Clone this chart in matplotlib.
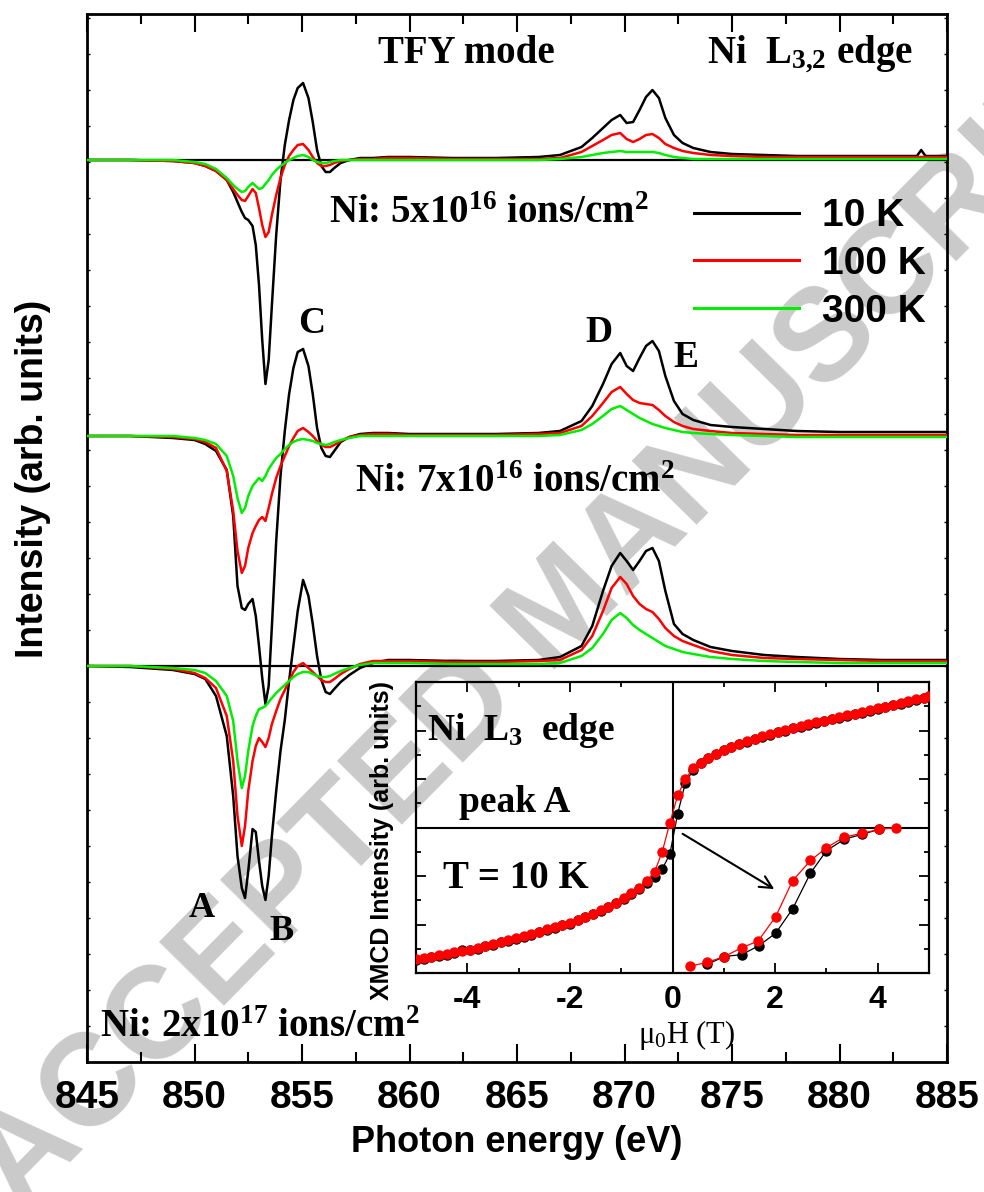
import numpy as np
import matplotlib
matplotlib.use("Agg")
import matplotlib.pyplot as plt
from matplotlib.ticker import MultipleLocator
from matplotlib.lines import Line2D

# ---------------- data ----------------
energy = [845, 847, 849, 850, 850.5, 851, 851.5, 851.8, 852.0, 852.2,
          852.35, 852.5, 852.7, 852.85, 853.0, 853.15, 853.3, 853.45, 853.6, 853.8,
          854.0, 854.2, 854.4, 854.6, 854.8, 855.05, 855.3, 855.5, 855.7, 855.9,
          856.1, 856.3, 856.5, 856.8, 857.2, 857.7, 858.3, 859, 860, 862,
          864, 866, 867, 868, 868.5, 869, 869.4, 869.8, 870.1, 870.4,
          870.7, 871.0, 871.3, 871.6, 871.9, 872.3, 872.7, 873.2, 874, 875,
          876.5, 878, 880, 882, 883.6, 883.8, 884.0, 885]

# Ni 5e16
top_10K = [0.00, 0.00, -0.01, -0.03, -0.06,
           -0.11, -0.20, -0.32, -0.42, -0.52,
           -0.58, -0.60, -0.66, -0.85, -1.25,
           -1.80, -2.24, -2.00, -1.45, -0.75,
           -0.20, 0.15, 0.40, 0.60, 0.72,
           0.77, 0.62, 0.38, 0.10, -0.06,
           -0.12, -0.12, -0.08, -0.03, 0.00,
           0.02, 0.02, 0.03, 0.03, 0.02,
           0.02, 0.03, 0.05, 0.13, 0.22,
           0.32, 0.40, 0.45, 0.37, 0.38,
           0.50, 0.63, 0.70, 0.62, 0.42,
           0.25, 0.17, 0.12, 0.08, 0.06,
           0.05, 0.04, 0.04, 0.04, 0.04,
           0.10, 0.04, 0.04]
top_100K = [0.00, 0.00, -0.01, -0.03, -0.06,
            -0.11, -0.20, -0.29, -0.35, -0.40,
            -0.41, -0.36, -0.29, -0.33, -0.48,
            -0.65, -0.77, -0.72, -0.55, -0.35,
            -0.18, -0.05, 0.04, 0.10, 0.15,
            0.16, 0.10, 0.03, -0.03, -0.06,
            -0.06, -0.05, -0.03, -0.01, 0.00,
            0.01, 0.01, 0.02, 0.02, 0.01,
            0.01, 0.01, 0.02, 0.08, 0.14,
            0.20, 0.25, 0.27, 0.21, 0.18,
            0.21, 0.25, 0.26, 0.22, 0.16,
            0.12, 0.09, 0.07, 0.05, 0.04,
            0.03, 0.03, 0.03, 0.03, 0.03,
            0.03, 0.03, 0.03]
top_300K = [0.00, 0.00, 0.00, -0.02, -0.04,
            -0.09, -0.18, -0.25, -0.29, -0.32,
            -0.31, -0.27, -0.23, -0.26, -0.29,
            -0.28, -0.24, -0.20, -0.15, -0.10,
            -0.06, -0.03, 0.00, 0.02, 0.04,
            0.05, 0.03, 0.00, -0.02, -0.03,
            -0.03, -0.02, -0.01, 0.00, 0.00,
            0.00, 0.00, 0.00, 0.00, 0.00,
            0.00, 0.00, 0.01, 0.03, 0.05,
            0.07, 0.08, 0.09, 0.08, 0.08,
            0.08, 0.08, 0.08, 0.07, 0.05,
            0.03, 0.02, 0.01, 0.01, 0.01,
            0.01, 0.01, 0.01, 0.01, 0.01,
            0.01, 0.01, 0.01]

# Ni 7e16
mid_10K = [0.00, 0.00, -0.02, -0.04, -0.08,
           -0.15, -0.34, -0.80, -1.50, -1.72,
           -1.74, -1.68, -1.63, -1.80, -2.10,
           -2.42, -2.68, -2.50, -1.90, -1.05,
           -0.40, 0.05, 0.42, 0.68, 0.84,
           0.87, 0.70, 0.42, 0.08, -0.12,
           -0.20, -0.21, -0.15, -0.06, -0.01,
           0.02, 0.03, 0.03, 0.02, 0.02,
           0.02, 0.03, 0.05, 0.15, 0.30,
           0.52, 0.72, 0.83, 0.70, 0.65,
           0.78, 0.90, 0.95, 0.85, 0.60,
           0.35, 0.22, 0.16, 0.11, 0.09,
           0.07, 0.05, 0.04, 0.04, 0.04,
           0.04, 0.04, 0.04]
mid_100K = [0.00, 0.00, -0.01, -0.03, -0.06,
            -0.12, -0.35, -0.75, -1.15, -1.37,
            -1.30, -1.12, -0.97, -0.90, -0.84,
            -0.81, -0.85, -0.72, -0.58, -0.42,
            -0.30, -0.20, -0.10, -0.02, 0.05,
            0.08, 0.04, 0.00, -0.05, -0.09,
            -0.11, -0.11, -0.09, -0.05, -0.01,
            0.01, 0.02, 0.02, 0.01, 0.01,
            0.01, 0.02, 0.03, 0.10, 0.20,
            0.33, 0.44, 0.49, 0.42, 0.36,
            0.33, 0.32, 0.31, 0.26, 0.20,
            0.14, 0.10, 0.07, 0.05, 0.03,
            0.02, 0.01, 0.01, 0.01, 0.01,
            0.01, 0.01, 0.01]
mid_300K = [0.00, 0.00, 0.00, -0.02, -0.04,
            -0.08, -0.20, -0.40, -0.62, -0.77,
            -0.72, -0.60, -0.50, -0.46, -0.42,
            -0.45, -0.40, -0.33, -0.28, -0.22,
            -0.18, -0.13, -0.09, -0.06, -0.04,
            -0.03, -0.04, -0.05, -0.07, -0.08,
            -0.09, -0.08, -0.06, -0.04, -0.02,
            0.00, 0.00, 0.00, 0.00, 0.00,
            0.00, 0.00, 0.01, 0.06, 0.12,
            0.20, 0.27, 0.30, 0.26, 0.22,
            0.18, 0.15, 0.12, 0.10, 0.08,
            0.06, 0.04, 0.03, 0.02, 0.01,
            0.00, -0.01, -0.01, -0.01, -0.01,
            -0.01, -0.01, -0.01]

# Ni 2e17
bot_10K = [0.00, -0.01, -0.04, -0.08, -0.13,
           -0.30, -0.70, -1.30, -1.90, -2.22,
           -2.32, -2.05, -1.63, -1.66, -1.95,
           -2.20, -2.34, -2.10, -1.70, -1.25,
           -0.85, -0.54, -0.15, 0.20, 0.55,
           0.86, 0.70, 0.42, 0.10, -0.14,
           -0.26, -0.28, -0.23, -0.16, -0.09,
           -0.02, 0.03, 0.06, 0.06, 0.05,
           0.05, 0.06, 0.09, 0.20, 0.40,
           0.75, 1.00, 1.13, 1.05, 0.96,
           1.05, 1.15, 1.18, 1.05, 0.75,
           0.42, 0.32, 0.26, 0.19, 0.15,
           0.11, 0.09, 0.07, 0.06, 0.06,
           0.06, 0.06, 0.06]
bot_100K = [0.00, 0.00, -0.03, -0.07, -0.12,
            -0.22, -0.50, -0.95, -1.50, -1.80,
            -1.60, -1.25, -0.95, -0.80, -0.72,
            -0.76, -0.81, -0.72, -0.58, -0.45,
            -0.33, -0.24, -0.15, -0.06, 0.00,
            0.03, -0.02, -0.06, -0.10, -0.14,
            -0.16, -0.16, -0.13, -0.08, -0.03,
            0.02, 0.05, 0.05, 0.05, 0.04,
            0.04, 0.05, 0.06, 0.16, 0.30,
            0.55, 0.78, 0.89, 0.82, 0.70,
            0.62, 0.57, 0.54, 0.47, 0.38,
            0.30, 0.25, 0.21, 0.15, 0.11,
            0.08, 0.07, 0.06, 0.05, 0.05,
            0.05, 0.05, 0.05]
bot_300K = [0.00, 0.00, -0.02, -0.04, -0.07,
            -0.15, -0.30, -0.55, -0.95, -1.22,
            -1.10, -0.85, -0.60, -0.50, -0.43,
            -0.42, -0.40, -0.36, -0.32, -0.27,
            -0.23, -0.19, -0.15, -0.11, -0.08,
            -0.06, -0.06, -0.08, -0.10, -0.11,
            -0.11, -0.10, -0.08, -0.05, -0.02,
            0.01, 0.03, 0.03, 0.03, 0.02,
            0.02, 0.02, 0.03, 0.10, 0.18,
            0.32, 0.46, 0.53, 0.48, 0.41,
            0.36, 0.32, 0.28, 0.24, 0.20,
            0.17, 0.14, 0.12, 0.09, 0.07,
            0.05, 0.04, 0.03, 0.03, 0.03,
            0.03, 0.03, 0.03]

temps = ["10 K", "100 K", "300 K"]

# inset: hysteresis at peak A, T = 10 K
field = [-5.0, -4.85, -4.7, -4.55, -4.4, -4.25, -4.1, -3.95, -3.8, -3.65,
         -3.5, -3.35, -3.2, -3.05, -2.9, -2.75, -2.6, -2.45, -2.3, -2.15,
         -2.0, -1.85, -1.7, -1.55, -1.4, -1.25, -1.1, -0.95, -0.8, -0.65,
         -0.5, -0.35, -0.2, -0.05, 0.1, 0.25, 0.4, 0.55, 0.7, 0.85,
         1.0, 1.15, 1.3, 1.45, 1.6, 1.75, 1.9, 2.05, 2.2, 2.35,
         2.5, 2.65, 2.8, 2.95, 3.1, 3.25, 3.4, 3.55, 3.7, 3.85,
         4.0, 4.15, 4.3, 4.45, 4.6, 4.75, 4.9, 5.0]
xmcd_red = [-1.36, -1.345, -1.33, -1.315, -1.30, -1.285, -1.27, -1.26, -1.24, -1.22,
            -1.20, -1.18, -1.16, -1.14, -1.12, -1.10, -1.075, -1.05, -1.03, -1.005,
            -0.98, -0.95, -0.92, -0.89, -0.855, -0.815, -0.775, -0.73, -0.68, -0.62,
            -0.55, -0.46, -0.25, 0.05, 0.33, 0.50, 0.61, 0.67, 0.72, 0.76,
            0.80, 0.835, 0.865, 0.89, 0.915, 0.94, 0.96, 0.985, 1.005, 1.025,
            1.045, 1.065, 1.085, 1.10, 1.12, 1.14, 1.16, 1.175, 1.195, 1.21,
            1.23, 1.245, 1.265, 1.28, 1.30, 1.32, 1.34, 1.36]
xmcd_black = [-1.37, -1.355, -1.34, -1.32, -1.31, -1.29, -1.265, -1.265, -1.25, -1.225,
              -1.21, -1.185, -1.17, -1.15, -1.125, -1.105, -1.08, -1.06, -1.035, -1.01,
              -0.99, -0.955, -0.925, -0.895, -0.86, -0.82, -0.78, -0.735, -0.69, -0.635,
              -0.57, -0.51, -0.43, -0.27, 0.14, 0.46, 0.59, 0.66, 0.715, 0.755,
              0.795, 0.83, 0.86, 0.885, 0.91, 0.935, 0.955, 0.98, 1.0, 1.03,
              1.04, 1.06, 1.08, 1.095, 1.115, 1.13, 1.15, 1.165, 1.185, 1.20,
              1.225, 1.24, 1.26, 1.275, 1.295, 1.315, 1.335, 1.355]
# magnified view near zero (drawn in lower right of inset)
zoom_field_red = [0.34, 0.68, 1.01, 1.35, 1.67, 2.01, 2.34, 2.69, 3.0, 3.34, 3.69, 4.03, 4.36]
zoom_xmcd_red = [-1.43, -1.39, -1.33, -1.24, -1.17, -0.92, -0.55, -0.34, -0.21, -0.10, -0.06, -0.02, 0.0]
zoom_field_black = [0.68, 1.01, 1.35, 1.68, 2.01, 2.34, 2.69, 3.0, 3.35, 3.7, 4.02]
zoom_xmcd_black = [-1.41, -1.33, -1.31, -1.22, -1.09, -0.84, -0.47, -0.24, -0.12, -0.07, -0.02]

# ---------------- figure ----------------
W, H = 984, 1192
plt.rcParams["axes.unicode_minus"] = False
plt.rcParams["mathtext.fontset"] = "custom"
plt.rcParams["mathtext.rm"] = "Liberation Serif:bold"
plt.rcParams["mathtext.bf"] = "Liberation Serif:bold"
plt.rcParams["mathtext.it"] = "Liberation Serif:italic:bold"

fig = plt.figure(figsize=(W / 100, H / 100), dpi=100)
fig.patch.set_facecolor("white")


def fx(x):
    return x / W


def fy(y):
    return 1 - y / H


SANS = "Liberation Sans"
SERIF = "Liberation Serif"

# watermark (behind everything)
fig.text(fx(565), fy(610), "ACCEPTED MANUSCRIPT", fontsize=94, fontweight="bold",
         family=SANS, color="#cacaca", rotation=45.5, rotation_mode="anchor",
         ha="center", va="center", zorder=-5)

ax = fig.add_axes([fx(87), fy(1062), fx(947) - fx(87), fy(14) - fy(1062)])
ax.patch.set_alpha(0)
ax.set_xlim(845, 885)
ax.set_ylim(0, 10.48)

offsets = [9.02, 6.26, 3.96]
colors = ["black", "#ff0000", "#00ee00"]
groups = [(top_10K, top_100K, top_300K), (mid_10K, mid_100K, mid_300K),
          (bot_10K, bot_100K, bot_300K)]

ax.axhline(offsets[0], color="black", lw=1.6, zorder=1)
ax.axhline(offsets[2], color="black", lw=1.6, zorder=1)

e = np.array(energy)
for off, grp in zip(offsets, groups):
    for k, (ser, c) in enumerate(zip(grp, colors)):
        ax.plot(e, np.array(ser) + off, color=c, lw=1.8, zorder=2 + k)

ax.xaxis.set_major_locator(MultipleLocator(5))
ax.xaxis.set_minor_locator(MultipleLocator(2.5))
ax.yaxis.set_major_locator(MultipleLocator(0.36))
ax.tick_params(axis="x", which="major", direction="in", top=True, length=13, width=1.5,
               labelsize=28, pad=13)
ax.tick_params(axis="x", which="minor", direction="in", top=True, length=7, width=1.5)
ax.tick_params(axis="y", which="major", direction="in", right=True, length=2.5, width=1.0,
               labelleft=False)
for lab in ax.get_xticklabels():
    lab.set_fontweight("bold")
    lab.set_family(SANS)
for s in ax.spines.values():
    s.set_linewidth(2.0)

# legend
handles = [Line2D([], [], color=c, lw=2.2) for c in colors]
leg = ax.legend(handles, temps, loc="center left", bbox_to_anchor=(fx(694), fy(264)),
                bbox_transform=fig.transFigure, frameon=False, borderpad=0, borderaxespad=0,
                handlelength=2.7, handletextpad=0.6, labelspacing=0.3,
                prop=dict(family=SANS, weight="bold", size=28))

# axis labels
fig.text(fx(517), fy(1143), "Photon energy (eV)", family=SANS, fontweight="bold",
         fontsize=26, ha="center", va="center")
fig.text(fx(33), fy(479), "Intensity (arb. units)", family=SANS, fontweight="bold",
         fontsize=27, ha="center", va="center", rotation=90)

# annotations
tkw = dict(family=SERIF, fontweight="bold", ha="left", va="baseline")
fig.text(fx(378), fy(63), "TFY mode", fontsize=28, **tkw)
fig.text(fx(707), fy(63), r"Ni  L$_\mathregular{3{,}2}$ edge", fontsize=28, **tkw)
fig.text(fx(329), fy(223), r"Ni: 5x10$^\mathregular{16}$ ions/cm$^\mathregular{2}$", fontsize=28, **tkw)
fig.text(fx(355), fy(492), r"Ni: 7x10$^\mathregular{16}$ ions/cm$^\mathregular{2}$", fontsize=28, **tkw)
fig.text(fx(100), fy(1037), r"Ni: 2x10$^\mathregular{17}$ ions/cm$^\mathregular{2}$", fontsize=28, **tkw)
fig.text(fx(298), fy(333), "C", fontsize=27, **tkw)
fig.text(fx(585), fy(342), "D", fontsize=27, **tkw)
fig.text(fx(673), fy(367), "E", fontsize=27, **tkw)
fig.text(fx(189), fy(917), "A", fontsize=26, **tkw)
fig.text(fx(269), fy(940), "B", fontsize=26, **tkw)

# ---------------- inset ----------------
ax2 = fig.add_axes([fx(416), fy(973), fx(929) - fx(416), fy(682) - fy(973)])
ax2.patch.set_alpha(0)
ax2.set_xlim(-5, 5)
ax2.set_ylim(-1.5, 1.5)
ax2.axhline(0, color="black", lw=1.5, zorder=1)
ax2.axvline(0, color="black", lw=1.5, zorder=1)
ax2.plot(field, xmcd_black, color="black", lw=0.9, marker="o", ms=6.5, zorder=3)
ax2.plot(field, xmcd_red, color="#ff0000", lw=0.9, marker="o", ms=6.5, zorder=4)
ax2.plot(zoom_field_black, zoom_xmcd_black, color="black", lw=0.9, marker="o", ms=6.5, zorder=3)
ax2.plot(zoom_field_red, zoom_xmcd_red, color="#ff0000", lw=0.9, marker="o", ms=6.5, zorder=4)
ax2.annotate("", xy=(2.03, -0.65), xytext=(0.15, -0.05),
             arrowprops=dict(arrowstyle="->", lw=1.5, color="black", mutation_scale=22))
ax2.xaxis.set_major_locator(MultipleLocator(2))
ax2.xaxis.set_minor_locator(MultipleLocator(1))
ax2.yaxis.set_major_locator(MultipleLocator(0.5))
ax2.yaxis.set_minor_locator(MultipleLocator(0.25))
ax2.tick_params(which="major", direction="in", top=True, right=True, length=7, width=1.3,
                labelsize=23, pad=9, labelleft=False)
ax2.tick_params(which="minor", direction="in", top=True, right=True, length=3.5, width=1.3)
for lab in ax2.get_xticklabels():
    lab.set_fontweight("bold")
    lab.set_family(SANS)
for s in ax2.spines.values():
    s.set_linewidth(1.6)

fig.text(fx(687), fy(1043), r"μ$_\mathregular{0}$H (T)", family=SERIF, fontsize=22,
         ha="center", va="baseline")
fig.text(fx(382), fy(840), "XMCD Intensity (arb. units)", family=SANS, fontweight="bold",
         fontsize=18, ha="center", va="center", rotation=90)
fig.text(fx(427), fy(740), r"Ni  L$_\mathregular{3}$  edge", fontsize=27, **tkw)
fig.text(fx(459), fy(812), "peak A", fontsize=27, **tkw)
fig.text(fx(443), fy(888), "T = 10 K", fontsize=28, **tkw)

fig.savefig("out.png", dpi=100, facecolor="white")
